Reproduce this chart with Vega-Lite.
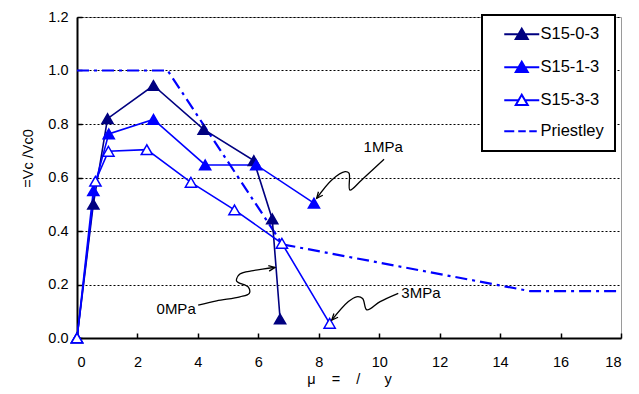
{
  "$schema": "https://vega.github.io/schema/vega-lite/v6.json",
  "width": 544,
  "height": 321,
  "autosize": {"type": "none"},
  "padding": {"left": 77, "top": 17, "right": 18, "bottom": 56},
  "background": "white",
  "config": {
    "font": "Liberation Sans",
    "view": {"stroke": "#9a9a9a", "strokeWidth": 1},
    "legend": {"title": null, "orient": "none", "legendX": 405, "legendY": -2, "strokeColor": "black", "strokeWidth": 2, "fillColor": "white", "padding": 11, "labelFontSize": 16.5, "labelFont": "Liberation Sans", "labelColor": "black", "labelExpr": "datum.label + '\u00a0\u00a0\u00a0'", "symbolSize": 100, "symbolStrokeWidth": 2, "symbolOpacity": 1, "labelOffset": 31, "rowPadding": 14}
  },
  "datasets": {
    "main": [
      {"series": "S15-0-3", "i": 0, "x": 0, "y": 0},
      {"series": "S15-0-3", "i": 1, "x": 0.54, "y": 0.50},
      {"series": "S15-0-3", "i": 2, "x": 1.01, "y": 0.82},
      {"series": "S15-0-3", "i": 3, "x": 2.53, "y": 0.944},
      {"series": "S15-0-3", "i": 4, "x": 4.19, "y": 0.78},
      {"series": "S15-0-3", "i": 5, "x": 5.85, "y": 0.663},
      {"series": "S15-0-3", "i": 6, "x": 6.46, "y": 0.445},
      {"series": "S15-0-3", "i": 7, "x": 6.72, "y": 0.071},
      {"series": "S15-1-3", "i": 0, "x": 0, "y": 0},
      {"series": "S15-1-3", "i": 1, "x": 0.54, "y": 0.551},
      {"series": "S15-1-3", "i": 2, "x": 1.05, "y": 0.763},
      {"series": "S15-1-3", "i": 3, "x": 2.53, "y": 0.817},
      {"series": "S15-1-3", "i": 4, "x": 4.24, "y": 0.647},
      {"series": "S15-1-3", "i": 5, "x": 5.93, "y": 0.647},
      {"series": "S15-1-3", "i": 6, "x": 7.84, "y": 0.504},
      {"series": "S15-3-3", "i": 0, "x": 0, "y": 0},
      {"series": "S15-3-3", "i": 1, "x": 0.61, "y": 0.586},
      {"series": "S15-3-3", "i": 2, "x": 1.04, "y": 0.698},
      {"series": "S15-3-3", "i": 3, "x": 2.31, "y": 0.704},
      {"series": "S15-3-3", "i": 4, "x": 3.77, "y": 0.582},
      {"series": "S15-3-3", "i": 5, "x": 5.21, "y": 0.479},
      {"series": "S15-3-3", "i": 6, "x": 6.78, "y": 0.354},
      {"series": "S15-3-3", "i": 7, "x": 8.36, "y": 0.055},
      {"series": "Priestley", "i": 0, "x": 0, "y": 1.0},
      {"series": "Priestley", "i": 1, "x": 3, "y": 1.0},
      {"series": "Priestley", "i": 2, "x": 6.8, "y": 0.35},
      {"series": "Priestley", "i": 3, "x": 15, "y": 0.175},
      {"series": "Priestley", "i": 4, "x": 18, "y": 0.175}
    ],
    "arrows": [
      {"arrow": "1MPa", "i": 0, "x": 10.16, "y": 0.668},
      {"arrow": "1MPa", "i": 1, "x": 9.42, "y": 0.591},
      {"arrow": "1MPa", "i": 2, "x": 9.03, "y": 0.553},
      {"arrow": "1MPa", "i": 3, "x": 9.0, "y": 0.616},
      {"arrow": "1MPa", "i": 4, "x": 8.87, "y": 0.622},
      {"arrow": "1MPa", "i": 5, "x": 8.43, "y": 0.591},
      {"arrow": "1MPa", "i": 6, "x": 7.93, "y": 0.522},
      {"arrow": "3MPa", "i": 0, "x": 10.63, "y": 0.167},
      {"arrow": "3MPa", "i": 1, "x": 10.03, "y": 0.136},
      {"arrow": "3MPa", "i": 2, "x": 9.59, "y": 0.105},
      {"arrow": "3MPa", "i": 3, "x": 9.45, "y": 0.148},
      {"arrow": "3MPa", "i": 4, "x": 9.25, "y": 0.154},
      {"arrow": "3MPa", "i": 5, "x": 8.98, "y": 0.136},
      {"arrow": "3MPa", "i": 6, "x": 8.43, "y": 0.067},
      {"arrow": "0MPa", "i": 0, "x": 4.01, "y": 0.123},
      {"arrow": "0MPa", "i": 1, "x": 4.62, "y": 0.139},
      {"arrow": "0MPa", "i": 2, "x": 5.39, "y": 0.154},
      {"arrow": "0MPa", "i": 3, "x": 5.70, "y": 0.167},
      {"arrow": "0MPa", "i": 4, "x": 5.67, "y": 0.190},
      {"arrow": "0MPa", "i": 5, "x": 5.28, "y": 0.213},
      {"arrow": "0MPa", "i": 6, "x": 5.39, "y": 0.239},
      {"arrow": "0MPa", "i": 7, "x": 5.83, "y": 0.252},
      {"arrow": "0MPa", "i": 8, "x": 6.55, "y": 0.264}
    ],
    "labels": [
      {"label": "1MPa", "x": 10.13, "y": 0.714},
      {"label": "3MPa", "x": 11.38, "y": 0.168},
      {"label": "0MPa", "x": 3.28, "y": 0.108}
    ]
  },
  "encoding": {
    "x": {
      "field": "x", "type": "quantitative",
      "scale": {"domain": [0, 18], "nice": false, "zero": false},
      "axis": {
        "title": "μ\u00a0\u00a0\u00a0\u00a0=\u00a0\u00a0\u00a0\u00a0/\u00a0\u00a0\u00a0\u00a0\u00a0\u00a0y",
        "values": [0, 2, 4, 6, 8, 10, 12, 14, 16, 18],
        "grid": false,
        "domainColor": "black", "domainWidth": 2,
        "tickColor": "black", "tickWidth": 1.5, "tickSize": -5,
        "labelPadding": 22, "labelFontSize": 14.5, "labelColor": "black",
        "labelFont": "Liberation Sans",
        "titleFont": "Liberation Sans", "titleFontSize": 14.5, "titleFontWeight": "normal",
        "titleColor": "black", "titlePadding": 4
      }
    },
    "y": {
      "field": "y", "type": "quantitative",
      "scale": {"domain": [0, 1.2], "nice": false},
      "axis": {
        "title": "\u00a0\u00a0=Vc\u00a0/Vc0",
        "values": [0, 0.2, 0.4, 0.6, 0.8, 1.0, 1.2],
        "format": ".1f",
        "grid": true, "gridColor": "black", "gridDash": [2, 2], "gridWidth": 1,
        "domainColor": "black", "domainWidth": 2,
        "tickColor": "black", "tickWidth": 1.5, "tickSize": -5,
        "labelPadding": 14, "labelFontSize": 14.5, "labelColor": "black",
        "labelFont": "Liberation Sans",
        "titleFont": "Liberation Sans", "titleFontSize": 14.5, "titleFontWeight": "normal",
        "titleColor": "black", "titleX": -42, "titleY": 141
      }
    }
  },
  "layer": [
    {
      "data": {"name": "main"},
      "transform": [{"filter": "datum.series === 'Priestley'"}],
      "mark": {"type": "line", "color": "#0000ff", "strokeWidth": 2.2, "strokeDash": [12, 5, 3, 5]},
      "encoding": {"order": {"field": "i", "type": "quantitative"}}
    },
    {
      "data": {"name": "main"},
      "transform": [{"filter": "datum.series !== 'Priestley'"}],
      "mark": {"type": "line", "strokeWidth": 1.6},
      "encoding": {
        "stroke": {
          "field": "series", "type": "nominal",
          "scale": {"domain": ["S15-0-3", "S15-1-3", "S15-3-3", "Priestley"], "range": ["#000080", "#0000ff", "#0000ff", "#0000ff"]}
        },
        "order": {"field": "i", "type": "quantitative"}
      }
    },
    {
      "data": {"name": "main"},
      "transform": [{"filter": "datum.series !== 'Priestley'"}],
      "mark": {"type": "point", "shape": "triangle-up", "size": 125, "filled": true, "strokeWidth": 1.5, "opacity": 1},
      "encoding": {
        "fill": {
          "field": "series", "type": "nominal",
          "scale": {"domain": ["S15-0-3", "S15-1-3", "S15-3-3", "Priestley"], "range": ["#000080", "#0000ff", "#ffffff", "#0000ff"]}
        },
        "stroke": {"field": "series", "type": "nominal"}
      }
    },
    {
      "data": {"name": "main"},
      "mark": {"type": "point", "filled": true, "opacity": 0},
      "encoding": {
        "shape": {
          "field": "series", "type": "nominal",
          "scale": {
            "domain": ["S15-0-3", "S15-1-3", "S15-3-3", "Priestley"],
            "range": [
              "M0.6,0H7.6M4.1,-1.1L5.3,0.95L2.9,0.95Z",
              "M0.6,0H7.6M4.1,-1.1L5.3,0.95L2.9,0.95Z",
              "M0.6,0H3.46M4.74,0H7.6M4.1,-1.1L5.3,0.95L2.9,0.95Z",
              "M0.6,0H2.6M3.4,0H4.9M5.6,0H7.1"
            ]
          }
        },
        "fill": {"field": "series", "type": "nominal"},
        "stroke": {"field": "series", "type": "nominal"}
      }
    },
    {
      "data": {"name": "arrows"},
      "mark": {"type": "line", "color": "black", "strokeWidth": 1.3, "interpolate": "catmull-rom"},
      "encoding": {
        "detail": {"field": "arrow", "type": "nominal"},
        "order": {"field": "i", "type": "quantitative"}
      }
    },
    {
      "data": {"name": "arrows"},
      "transform": [{"filter": "datum.arrow === '1MPa' && datum.i === 6"}],
      "mark": {"type": "point", "shape": "M-0.8,1.8L0,0L0.8,1.8", "size": 49, "filled": false, "color": "black", "strokeWidth": 1.3, "angle": 219, "opacity": 1}
    },
    {
      "data": {"name": "arrows"},
      "transform": [{"filter": "datum.arrow === '3MPa' && datum.i === 6"}],
      "mark": {"type": "point", "shape": "M-0.8,1.8L0,0L0.8,1.8", "size": 49, "filled": false, "color": "black", "strokeWidth": 1.3, "angle": 222, "opacity": 1}
    },
    {
      "data": {"name": "arrows"},
      "transform": [{"filter": "datum.arrow === '0MPa' && datum.i === 8"}],
      "mark": {"type": "point", "shape": "M-0.8,1.8L0,0L0.8,1.8", "size": 49, "filled": false, "color": "black", "strokeWidth": 1.3, "angle": 81, "opacity": 1}
    },
    {
      "data": {"name": "labels"},
      "mark": {"type": "text", "fontSize": 15, "font": "Liberation Sans", "color": "black"},
      "encoding": {"text": {"field": "label", "type": "nominal"}}
    }
  ]
}
